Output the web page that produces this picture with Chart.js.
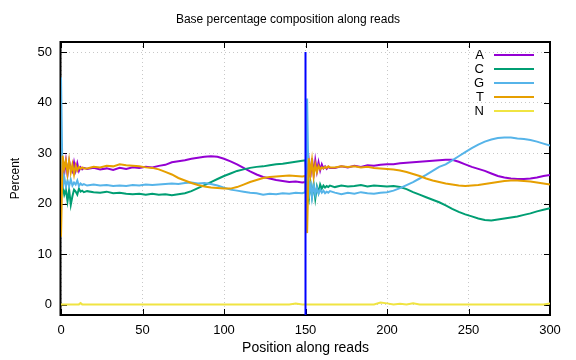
<!DOCTYPE html>
<html lang="en">
<head>
<meta charset="UTF-8">
<title>Base percentage composition along reads</title>
<script src="https://cdn.jsdelivr.net/npm/chart.js"></script>
<style>
  html, body { margin: 0; padding: 0; background: #fff; }
  .chart-container { position: relative; width: 576px; height: 360px; }
</style>
</head>
<body>
<div class="chart-container"><canvas id="compChart" width="576" height="360"></canvas></div>
<script>
// positions along the read (read 1: 0-150, read 2: 151-300)
const positions = [0,1,2,3,4,5,6,7,8,9,10,11,12,13,14,
  16,20,24,28,32,36,40,44,48,52,56,60,64,68,72,76,80,84,88,92,96,100,104,108,112,116,120,124,128,132,136,140,144,148,
  150,
  151,152,153,154,155,156,157,158,159,160,161,162,163,164,165,
  168,172,176,180,184,188,192,196,200,204,208,212,216,220,224,228,232,236,240,244,248,252,256,260,264,268,272,276,280,284,288,292,296,300];

const pctA = [25.5,27.5,26,28.5,25.8,28.4,27,26.4,28.2,26.6,28,26.5,27.2,26.8,27.1,
  26.9,27.1,26.8,27.0,26.7,27.1,26.9,27.2,27.1,27.3,27.2,27.5,27.7,28.2,28.4,28.6,28.9,29.1,29.3,29.4,29.3,28.9,28.4,27.8,27.1,26.4,25.8,25.3,25.0,24.7,24.5,24.3,24.4,24.2,
  24.3,
  26.5,28.6,25.2,29,25.8,28.6,26.4,28.2,26.6,27.8,27,27.4,26.9,27.3,27.1,
  27.1,27.4,27.2,27.5,27.3,27.6,27.5,27.7,27.8,27.8,28,28.1,28.2,28.3,28.4,28.5,28.6,28.7,28.7,28.3,27.8,27.3,26.9,26.5,26.0,25.5,25.2,25.0,24.9,24.9,25.0,25.2,25.5,25.7];

const pctC = [21.5,23.5,21.8,22.8,20.5,22.8,19.8,21.5,22.8,22.4,21.8,23,22.4,22.6,22.3,
  22.5,22.3,22.2,22.4,22.1,22.2,22.0,21.9,22.0,21.8,22.0,21.8,21.9,21.7,21.9,22.1,22.5,23.1,23.7,24.3,24.9,25.5,26.0,26.5,26.8,27.1,27.3,27.4,27.6,27.8,27.9,28.1,28.3,28.5,
  28.6,
  22,20.8,24.3,21.5,23.8,21,23.4,22.2,23.8,23,23.6,23.2,23.5,23.3,23.6,
  23.3,23.6,23.4,23.5,23.7,23.4,23.6,23.5,23.4,23.5,23.3,22.9,22.3,21.8,21.3,20.8,20.3,19.7,19.0,18.4,17.9,17.5,17.1,16.8,16.7,16.9,17.1,17.3,17.5,17.8,18.1,18.5,18.8,19.1];

const pctG = [45,23,25.3,23.4,24.6,23.5,24.8,23.6,24.2,23.8,24.6,23.5,24,23.7,23.9,
  23.6,23.8,23.6,23.7,23.5,23.6,23.5,23.7,23.6,23.8,23.7,23.8,23.9,24.0,23.9,24.1,24.2,24.0,24.1,23.9,23.6,23.2,22.8,22.6,22.4,22.2,22.1,21.8,22.0,21.9,22.1,22.0,22.2,22.1,
  22.3,
  40.8,21,24.5,21.3,23.8,21.8,23.2,22,22.8,22.2,22.6,22.1,22.4,22.2,22.5,
  22.2,21.9,22.2,22.0,22.3,22.1,22.0,22.2,22.3,22.6,23.1,23.7,24.3,25.0,25.7,26.5,27.3,27.8,28.6,29.4,30.2,31.0,31.7,32.3,32.7,33.0,33.1,33.1,32.9,32.8,32.6,32.3,31.9,31.5];

const pctT = [13.5,29.5,27,28.5,26,28.6,26.2,27.8,25.8,27.6,26.6,27.3,26.9,27.2,27,
  27.0,27.3,27.2,27.5,27.4,27.8,27.6,27.5,27.4,27.2,27.1,26.8,26.3,25.8,25.1,24.6,24.1,23.7,23.4,23.2,23.1,23.0,23.0,23.3,23.8,24.3,24.7,25.1,25.3,25.4,25.5,25.6,25.5,25.4,
  25.5,
  14.2,29,25.8,28.6,25.4,27.8,26.3,27.5,26.8,27.2,27,27.3,27.1,27.4,27.2,
  27.2,27.4,27.3,27.4,27.2,27.3,27.1,27.0,26.9,26.8,26.6,26.3,25.9,25.5,25.0,24.6,24.3,24.0,23.8,23.6,23.5,23.6,23.7,23.9,24.1,24.3,24.5,24.6,24.6,24.5,24.4,24.2,24.0,23.8];

const pctN = [0.1,0.1,0.1,0.1,0.1,0.1,0.1,0.1,0.1,0.1,0.1,0.1,0.35,0.1,0.1,
  0.1,0.1,0.1,0.1,0.1,0.1,0.1,0.1,0.1,0.1,0.1,0.1,0.1,0.1,0.1,0.1,0.1,0.1,0.1,0.1,0.1,0.1,0.1,0.1,0.1,0.1,0.1,0.1,0.1,0.1,0.1,0.1,0.25,0.1,
  0.1,
  0.1,0.1,0.1,0.1,0.1,0.1,0.1,0.1,0.1,0.1,0.1,0.1,0.1,0.1,0.1,
  0.1,0.1,0.1,0.1,0.1,0.1,0.1,0.45,0.3,0.1,0.2,0.1,0.3,0.1,0.1,0.1,0.1,0.1,0.1,0.1,0.1,0.1,0.1,0.1,0.1,0.1,0.1,0.1,0.1,0.1,0.1,0.1,0.1,0.3];

const bases = ['A', 'C', 'G', 'T', 'N'];
const baseSeries = [pctA, pctC, pctG, pctT, pctN];
const baseColors = ['#9400d3', '#009e73', '#56b4e9', '#e69f00', '#f0e442'];

const xTicks = [0, 50, 100, 150, 200, 250, 300];
const yTicks = [0, 10, 20, 30, 40, 50];
const yMin = -2, yMax = 52;

// read boundary marker
const boundaryPos = 150;
const boundaryTop = 50;

const FONT = '"Liberation Sans", Arial, sans-serif';

const datasets = bases.map((b, i) => ({
    label: b,
    data: positions.map((p, j) => ({ x: p, y: baseSeries[i][j] })),
    borderColor: baseColors[i],
    borderWidth: 2,
    pointRadius: 0,
    tension: 0,
    showLine: true,
    order: bases.length - i,
    inKey: true
}));
datasets.push({
    label: 'boundary',
    data: [{ x: boundaryPos, y: yMin }, { x: boundaryPos, y: boundaryTop }],
    borderColor: '#0000ff',
    borderWidth: 2,
    pointRadius: 0,
    showLine: true,
    order: 0,
    inKey: false
});

// border box + inward ticks (under the data), gnuplot-like key on top
const framePlugin = {
    id: 'frame',
    beforeDatasetsDraw(chart) {
        const { ctx, chartArea: a, scales: { x, y } } = chart;
        ctx.save();
        ctx.strokeStyle = '#000';
        ctx.lineWidth = 1;
        ctx.beginPath();
        xTicks.forEach(v => {
            const px = Math.round(x.getPixelForValue(v)) + 0.5;
            ctx.moveTo(px, a.bottom); ctx.lineTo(px, a.bottom - 6);
            ctx.moveTo(px, a.top); ctx.lineTo(px, a.top + 6);
        });
        yTicks.forEach(v => {
            const py = Math.round(y.getPixelForValue(v)) + 0.5;
            ctx.moveTo(a.left, py); ctx.lineTo(a.left + 6, py);
            ctx.moveTo(a.right, py); ctx.lineTo(a.right - 6, py);
        });
        ctx.stroke();
        ctx.lineWidth = 2;
        ctx.strokeRect(a.left - 0.5, a.top, a.right - a.left + 0.5, a.bottom - a.top);
        ctx.restore();
    },
    afterDatasetsDraw(chart) {
        const { ctx, chartArea: a } = chart;
        ctx.save();
        ctx.font = '13px ' + FONT;
        ctx.textAlign = 'right';
        ctx.textBaseline = 'middle';
        let row = 0;
        chart.data.datasets.forEach(ds => {
            if (!ds.inKey) return;
            const ky = a.top + 13 + row * 14;
            ctx.fillStyle = '#000';
            ctx.fillText(ds.label, a.right - 66, ky);
            ctx.strokeStyle = ds.borderColor;
            ctx.lineWidth = 2;
            ctx.beginPath();
            ctx.moveTo(a.right - 56, ky);
            ctx.lineTo(a.right - 16, ky);
            ctx.stroke();
            row++;
        });
        ctx.restore();
    }
};

const ctx = document.getElementById('compChart').getContext('2d');
const compChart = new Chart(ctx, {
    type: 'scatter',
    data: { datasets: datasets },
    options: {
        responsive: false,
        animation: false,
        layout: { padding: 0 },
        plugins: {
            legend: { display: false },
            tooltip: { enabled: false },
            title: {
                display: true,
                text: 'Base percentage composition along reads',
                color: '#000',
                font: { family: FONT, size: 12, weight: 'normal' },
                padding: { top: 12, bottom: 15.6 }
            }
        },
        scales: {
            x: {
                type: 'linear',
                min: 0,
                max: 300,
                afterBuildTicks: s => { s.ticks = xTicks.map(v => ({ value: v })); },
                afterFit: s => { s.height = 45; },
                ticks: { color: '#000', padding: 8, font: { family: FONT, size: 13 } },
                grid: { color: '#c8c8c8', lineWidth: 1, drawTicks: false },
                border: { display: false, dash: [1, 3] },
                title: {
                    display: true,
                    text: 'Position along reads',
                    color: '#000',
                    font: { family: FONT, size: 14 },
                    padding: { top: 0, bottom: 3 }
                }
            },
            y: {
                type: 'linear',
                min: yMin,
                max: yMax,
                afterBuildTicks: s => { s.ticks = yTicks.map(v => ({ value: v })); },
                afterFit: s => { s.width = 61; },
                ticks: { color: '#000', padding: 9, font: { family: FONT, size: 13 } },
                grid: { color: '#c8c8c8', lineWidth: 1, drawTicks: false },
                border: { display: false, dash: [1, 3] },
                title: {
                    display: true,
                    text: 'Percent',
                    color: '#000',
                    font: { family: FONT, size: 12 },
                    padding: { top: 8, bottom: 0 }
                }
            },
            // empty right margin so the title centres on the full canvas
            yRight: {
                position: 'right',
                display: true,
                afterFit: s => { s.width = 26; },
                ticks: { display: false },
                grid: { display: false, drawTicks: false },
                border: { display: false }
            }
        }
    },
    plugins: [framePlugin]
});
</script>
</body>
</html>
